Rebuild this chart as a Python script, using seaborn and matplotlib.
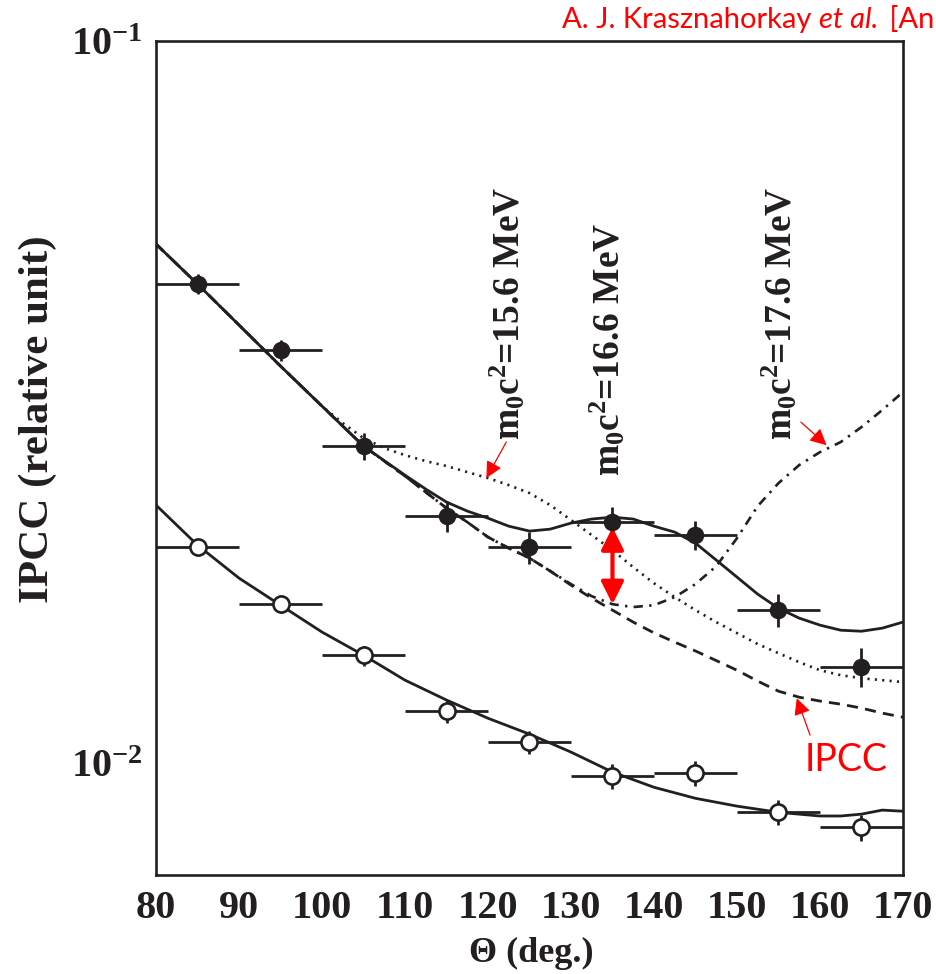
import numpy as np
import pandas as pd
import matplotlib
matplotlib.use("Agg")
import matplotlib.pyplot as plt
import seaborn as sns
from matplotlib.ticker import FixedLocator, FixedFormatter, NullFormatter

# ---------------- data ----------------
theta_pts = [85, 95, 105, 115, 125, 135, 145, 155, 165]
theta_halfbin = [5, 5, 5, 5, 5, 5, 5, 5, 5]
ipcc_filled = [0.0461, 0.0373, 0.0275, 0.0220, 0.0199, 0.0216, 0.0207, 0.0163, 0.0136]
ipcc_filled_err = [0.0015, 0.0013, 0.0012, 0.0011, 0.0010, 0.00105, 0.00095, 0.00085, 0.00085]
ipcc_open = [0.0199, 0.0166, 0.0141, 0.0118, 0.0107, 0.00959, 0.00969, 0.00855, 0.00815]
ipcc_open_err = [0.00052, 0.00048, 0.00045, 0.00042, 0.00039, 0.00037, 0.00038, 0.00033, 0.00034]

curve_theta = [80, 85, 90, 95, 100, 105, 110, 112.5, 115, 117.5, 120, 122.5, 125, 127.5,
               130, 132.5, 135, 137.5, 140, 142.5, 145, 147.5, 150, 152.5, 155, 157.5,
               160, 162.5, 165, 167.5, 170]
fit_166 = [0.05234, 0.04607, 0.04043, 0.03547, 0.03122, 0.02748, 0.02505, 0.02396, 0.02299,
           0.02234, 0.02184, 0.02129, 0.02096, 0.02109, 0.02150, 0.02178, 0.02191, 0.02178,
           0.02129, 0.02089, 0.02017, 0.01911, 0.01810, 0.01714, 0.01639, 0.01588, 0.01553,
           0.01528, 0.01523, 0.01538, 0.01568]
ipcc_curve = [0.05234, 0.04607, 0.04043, 0.03547, 0.03122, 0.02748, 0.02498, 0.02373, 0.02255,
              0.02157, 0.02056, 0.01985, 0.01923, 0.01845, 0.01764, 0.01692, 0.01629, 0.01568,
              0.01515, 0.01471, 0.01430, 0.01387, 0.01345, 0.01299, 0.01258, 0.01234, 0.01219,
              0.01207, 0.01192, 0.01173, 0.01158]
fit_176 = [0.05234, 0.04607, 0.04043, 0.03547, 0.03122, 0.02748, 0.02498, 0.02373, 0.02255,
           0.02157, 0.02056, 0.01985, 0.01923, 0.01845, 0.01770, 0.01703, 0.01660, 0.01645,
           0.01655, 0.01698, 0.01770, 0.01874, 0.02049, 0.02270, 0.02442, 0.02587, 0.02696,
           0.02784, 0.02920, 0.03083, 0.03265]

theta_156 = [80, 85, 90, 95, 100, 102.5, 105, 107.5, 110, 112.5, 115, 117.5, 120, 122.5, 125,
             127.5, 130, 132.5, 135, 137.5, 140, 142.5, 145, 147.5, 150, 152.5, 155, 157.5,
             160, 162.5, 165, 167.5, 170]
fit_156 = [0.05234, 0.04607, 0.04043, 0.03547, 0.03122, 0.02957, 0.02819, 0.02731, 0.02670,
           0.02620, 0.02579, 0.02530, 0.02482, 0.02427, 0.02366, 0.02277, 0.02171, 0.02069,
           0.01972, 0.01868, 0.01775, 0.01698, 0.01629, 0.01568, 0.01514, 0.01462, 0.01420,
           0.01380, 0.01345, 0.01324, 0.01311, 0.01303, 0.01295]

theta_low = [80, 85, 90, 95, 100, 105, 110, 115, 120, 125, 130, 135, 140, 145, 150, 155, 160,
             162.5, 165, 167.5, 170]
fit_open = [0.02277, 0.02004, 0.01804, 0.01655, 0.01519, 0.01411, 0.01303, 0.01223, 0.01154,
            0.01097, 0.01036, 0.00972, 0.00926, 0.00894, 0.00872, 0.00855, 0.00845, 0.00845,
            0.00850, 0.00861, 0.00858]

x_ticks = [80, 90, 100, 110, 120, 130, 140, 150, 160, 170]
y_ticks = [0.01, 0.1]
y_ticklabels = [r"$\mathbf{10^{-2}}$", r"$\mathbf{10^{-1}}$"]
mass_labels = ["15.6", "16.6", "17.6"]

# ---------------- style ----------------
sns.set_style("white")
plt.rcParams["font.family"] = ["Liberation Serif", "DejaVu Serif"]
plt.rcParams["font.weight"] = "bold"
plt.rcParams["mathtext.fontset"] = "custom"
plt.rcParams["mathtext.rm"] = "Liberation Serif:bold"
plt.rcParams["mathtext.bf"] = "Liberation Serif:bold"
plt.rcParams["mathtext.it"] = "Liberation Serif:bold:italic"

INK = "#231f20"
fig = plt.figure(figsize=(9.36, 9.74), dpi=100)
ax = fig.add_axes([0.1667, 0.1016, 0.798, 0.8563])
ax.set_yscale("log")

# curves
sns.lineplot(x=curve_theta, y=fit_166, ax=ax, color=INK, lw=2.0, estimator=None, sort=False)
l = sns.lineplot(x=theta_156, y=fit_156, ax=ax, color=INK, lw=1.9, estimator=None, sort=False).lines[-1]
l.set_dashes([0.8, 2.0])
l = sns.lineplot(x=curve_theta, y=ipcc_curve, ax=ax, color=INK, lw=2.0, estimator=None, sort=False).lines[-1]
l.set_dashes([4.0, 2.6])
l = sns.lineplot(x=curve_theta, y=fit_176, ax=ax, color=INK, lw=1.9, estimator=None, sort=False).lines[-1]
l.set_dashes([3.5, 2.4, 0.9, 2.4])
sns.lineplot(x=theta_low, y=fit_open, ax=ax, color=INK, lw=2.0, estimator=None, sort=False)

# data points
ax.errorbar(theta_pts, ipcc_filled, xerr=theta_halfbin, yerr=ipcc_filled_err, fmt="none",
            ecolor=INK, elinewidth=2.0, capsize=0, zorder=3)
ax.errorbar(theta_pts, ipcc_open, xerr=theta_halfbin, yerr=ipcc_open_err, fmt="none",
            ecolor=INK, elinewidth=2.0, capsize=0, zorder=3)
sns.scatterplot(x=theta_pts, y=ipcc_filled, ax=ax, s=135, color=INK, edgecolor=INK,
                linewidth=1.0, zorder=4)
sns.scatterplot(x=theta_pts, y=ipcc_open, ax=ax, s=135, color="white", edgecolor=INK,
                linewidth=1.9, zorder=4)

# axes
ax.set_xlim(80, 170)
ax.set_ylim(0.0070, 0.1)
ax.xaxis.set_major_locator(FixedLocator(x_ticks))
ax.xaxis.set_minor_locator(FixedLocator(list(range(80, 171, 2))))
ax.yaxis.set_major_locator(FixedLocator(y_ticks))
ax.yaxis.set_major_formatter(FixedFormatter(y_ticklabels))
ax.yaxis.set_minor_locator(FixedLocator([0.008, 0.009] + [k / 100 for k in range(2, 10)]))
ax.yaxis.set_minor_formatter(NullFormatter())
ax.tick_params(which="both", direction="in", colors=INK, width=1.7,
               top=False, right=False, labelsize=29)
ax.tick_params(which="major", length=11)
ax.tick_params(which="minor", length=5.5)
ax.tick_params(axis="x", which="major", pad=11)
ax.tick_params(axis="y", which="major", pad=10)
for lab in ax.get_xticklabels():
    lab.set_fontweight("bold")
for s in ax.spines.values():
    s.set_color(INK)
    s.set_linewidth(1.9)

ax.set_xlabel("Θ (deg.)", fontsize=26, fontweight="bold", color=INK)
ax.xaxis.set_label_coords(0.503, -0.074)
ax.set_ylabel("IPCC (relative unit)", fontsize=31, fontweight="bold", color=INK)
ax.yaxis.set_label_coords(-0.1325, 0.546)

# rotated mass labels
label_pos = [(122.4, 0.02801), (134.5, 0.02500), (155.2, 0.02801)]
for m, (lx, ly) in zip(mass_labels, label_pos):
    ax.text(lx, ly, r"$\mathbf{m_0c^2}$=" + m + " MeV", rotation=90, ha="center", va="bottom",
            fontsize=27, fontweight="bold", color=INK)

# red arrows
thin = dict(arrowstyle="-|>", color="red", lw=0.9, mutation_scale=25, shrinkA=0, shrinkB=0)
ax.annotate("", xy=(119.8, 0.02482), xytext=(122.2, 0.02784), arrowprops=thin)
ax.annotate("", xy=(160.8, 0.02756), xytext=(157.7, 0.02967), arrowprops=thin)
ax.annotate("", xy=(157.2, 0.01230), xytext=(158.8, 0.01094), arrowprops=thin)
ax.annotate("", xy=(135.0, 0.02122), xytext=(135.0, 0.01660),
            arrowprops=dict(arrowstyle="<|-|>", color="red", lw=3.0, mutation_scale=34,
                            shrinkA=0, shrinkB=0))
ax.text(158.2, 0.01010, "IPCC", color="red", fontsize=27, family="Lato", fontweight="normal",
        ha="left", va="center")

# red citation text (runs off the right edge, as in the original)
renderer = fig.canvas.get_renderer()
base_y = 1 - 28 / 974
x_cursor = 562 / 936
pieces = [("A. J. Krasznahorkay ", "normal"), ("et al.", "italic"), (" [Ann. Phys.]", "normal")]
for txt, sty in pieces:
    t = fig.text(x_cursor, base_y, txt, color="red", fontsize=21, family="Lato",
                 fontweight="normal", style=sty, ha="left", va="baseline")
    bb = t.get_window_extent(renderer=renderer)
    x_cursor = bb.x1 / fig.bbox.width + (4 / 936 if sty == "italic" else 0)

fig.savefig("out.png", dpi=100)
